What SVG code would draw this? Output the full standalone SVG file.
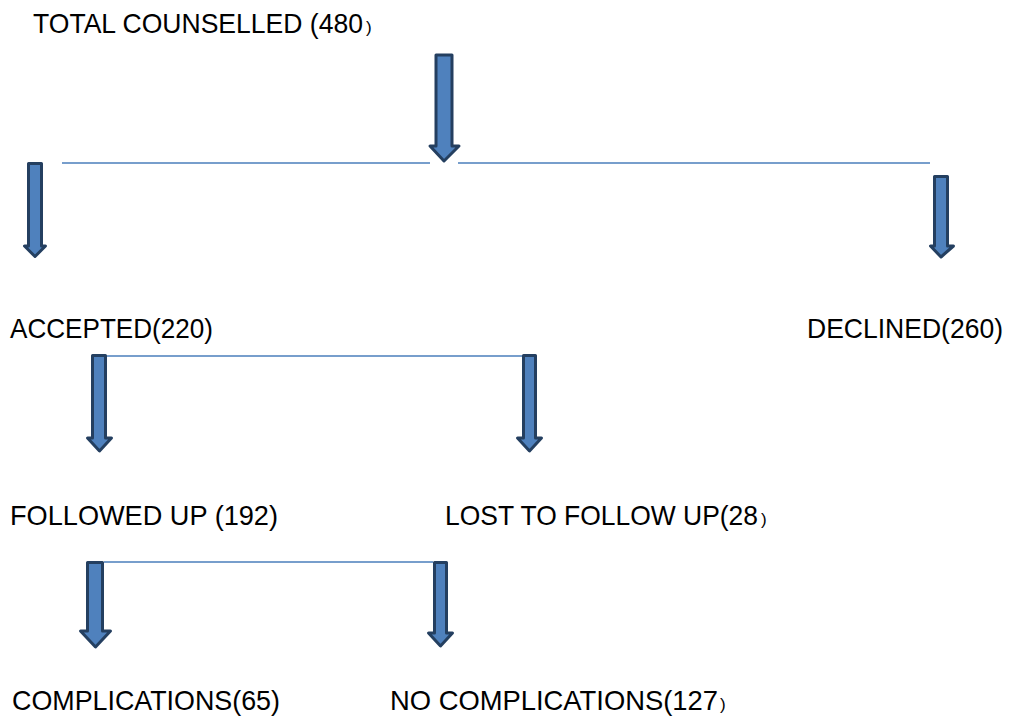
<svg xmlns="http://www.w3.org/2000/svg" width="1013" height="721" viewBox="0 0 1013 721">
<style>
.lbl{font-family:"Liberation Sans",Arial,sans-serif;font-size:28px;fill:#000}
.sm{font-size:17px}
.ln{stroke:#4A7EBB;stroke-width:1.3;fill:none}
.arr{fill:#4F81BD;stroke:#243F60;stroke-width:3;stroke-linejoin:round}
</style>
<rect width="1013" height="721" fill="#fff"/>
<g id="connectors">
<line class="ln" x1="62" y1="163" x2="430" y2="163"/>
<line class="ln" x1="458" y1="163" x2="930" y2="163"/>
<line class="ln" x1="107" y1="356" x2="522" y2="356"/>
<line class="ln" x1="104" y1="562" x2="433" y2="562"/>
<path class="arr" d="M436,55 H452 V146 H459 L444,161 L430,146 H436 Z"/>
<path class="arr" d="M28.5,163.5 H41.5 V246 H45.5 L35,256.5 L24.5,246 H28.5 Z"/>
<path class="arr" d="M934.5,176.5 H947.5 V246 H953.5 L941,257 L930.5,246 H934.5 Z"/>
<path class="arr" d="M92.5,355.5 H105.5 V438 H111.5 L99.5,451 L87.5,438 H92.5 Z"/>
<path class="arr" d="M523.5,355.5 H535.5 V438 H541.5 L529.5,451 L517.5,438 H523.5 Z"/>
<path class="arr" d="M87.5,562.5 H102.5 V631 H110.5 L95.5,647 L80.5,631 H87.5 Z"/>
<path class="arr" d="M434.5,562.5 H446.5 V633 H452.5 L440.5,646 L428.5,633 H434.5 Z"/>
</g>
<g id="total">
<text class="lbl" x="33" y="33">
<tspan textLength="330" lengthAdjust="spacingAndGlyphs">TOTAL COUNSELLED (480</tspan><tspan class="sm" x="366">)</tspan>
</text>
</g>
<g id="accepted">
<text class="lbl" x="10" y="338" textLength="203" lengthAdjust="spacingAndGlyphs">ACCEPTED(220)</text>
</g>
<g id="declined">
<text class="lbl" x="807" y="338" textLength="196" lengthAdjust="spacingAndGlyphs">DECLINED(260)</text>
</g>
<g id="followed">
<text class="lbl" x="10" y="525" textLength="268" lengthAdjust="spacingAndGlyphs">FOLLOWED UP (192)</text>
</g>
<g id="lost">
<text class="lbl" x="445" y="525">
<tspan textLength="313" lengthAdjust="spacingAndGlyphs">LOST TO FOLLOW UP(28</tspan><tspan class="sm" x="761">)</tspan>
</text>
</g>
<g id="complications">
<text class="lbl" x="12" y="710" textLength="268" lengthAdjust="spacingAndGlyphs">COMPLICATIONS(65)</text>
</g>
<g id="nocomplications">
<text class="lbl" x="390" y="710">
<tspan textLength="328" lengthAdjust="spacingAndGlyphs">NO COMPLICATIONS(127</tspan><tspan class="sm" x="720">)</tspan>
</text>
</g>
</svg>
